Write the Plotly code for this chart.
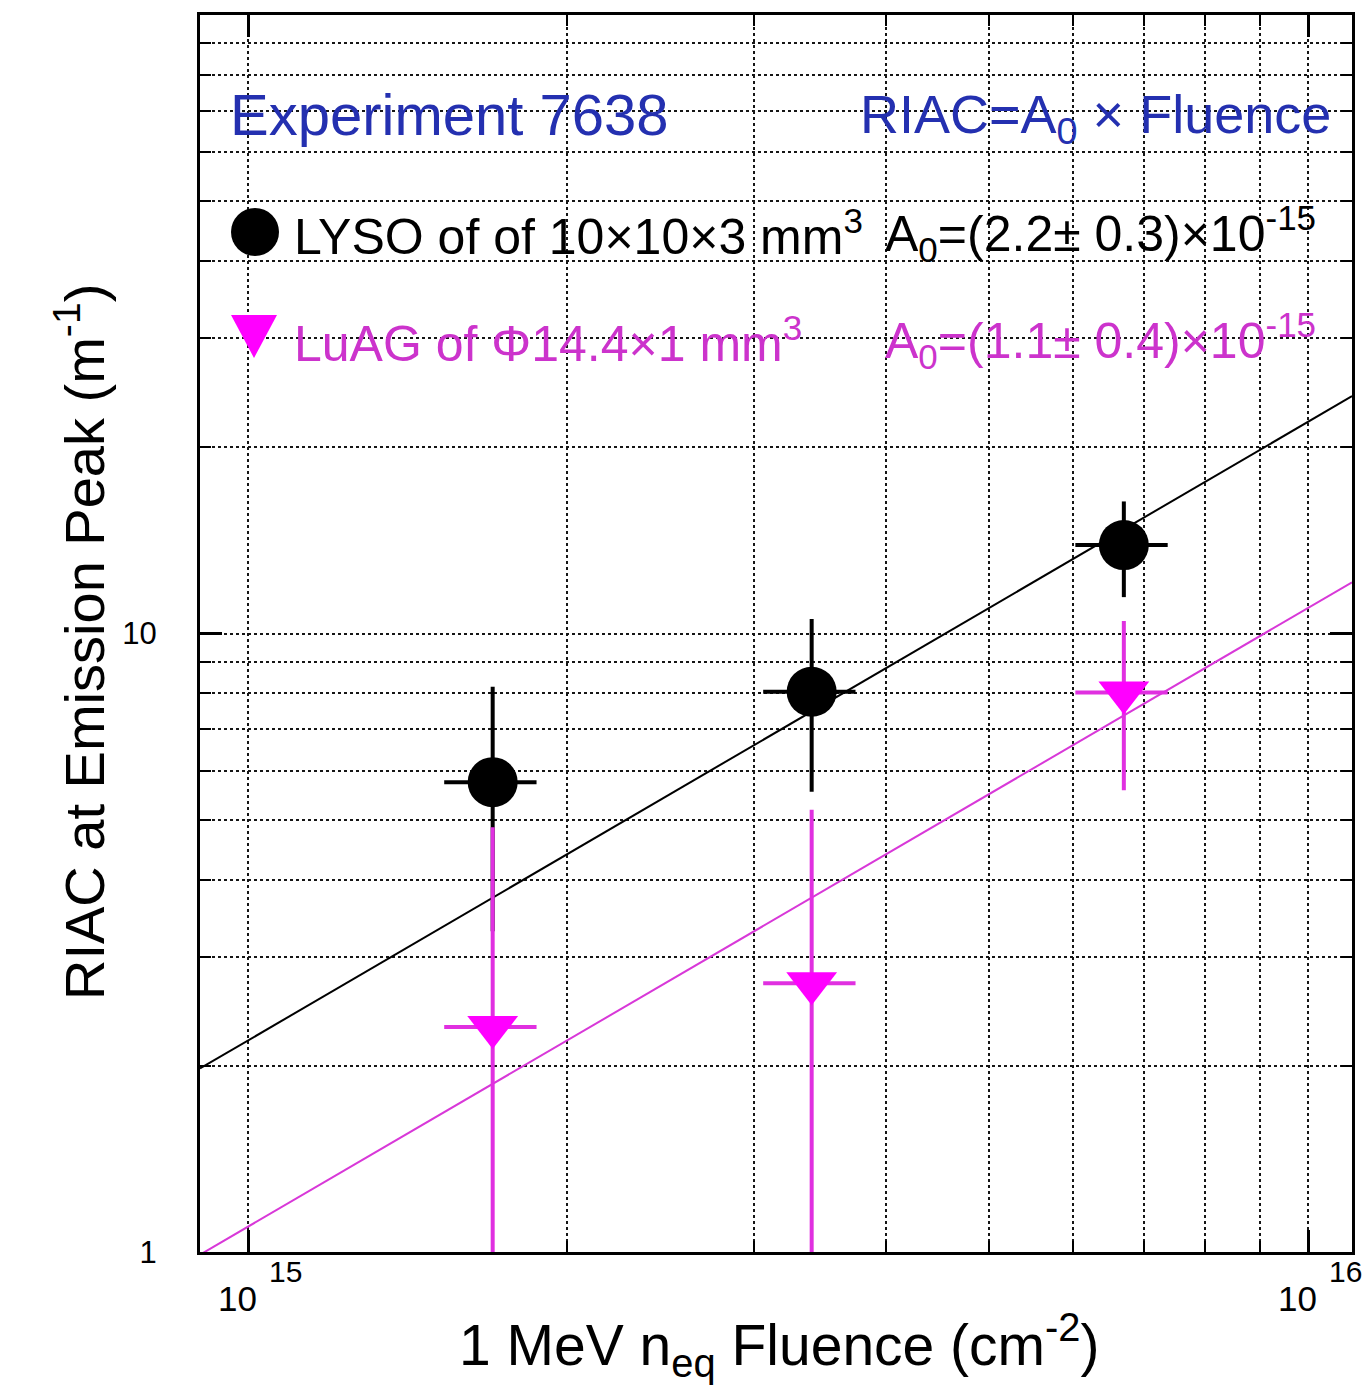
import numpy as np
import plotly.graph_objects as go

# ---- data -------------------------------------------------------------
fluence = [1.7e15, 3.4e15, 6.7e15]          # 1 MeV n_eq fluence (cm^-2)
fluence_err = [0.17e15, 0.34e15, 0.67e15]

lyso_riac = [5.75, 8.05, 13.9]              # RIAC at emission peak (m^-1)
lyso_err = [2.45, 2.5, 2.45]

luag_riac = [2.31, 2.72, 8.03]
luag_err = [2.55, 2.47, 2.45]

# linear fits RIAC = A0 x Fluence
fit_a0 = [2.2e-15, 1.1e-15]
fit_a0_err = [0.3e-15, 0.4e-15]
fit_fluence = [9e14, 1.1e16]

# axes
x_range = [9e14, 1.1e16]
y_range = [1, 100]
x_major = [1e15, 1e16]
x_minor = [2e15, 3e15, 4e15, 5e15, 6e15, 7e15, 8e15, 9e15]
y_major = [1, 10, 100]
y_major_text = ["1", "10", ""]
y_minor = [2, 3, 4, 5, 6, 7, 8, 9, 20, 30, 40, 50, 60, 70, 80, 90]

# ---- style ------------------------------------------------------------
FONT = "Liberation Sans, Arial, Helvetica, sans-serif"
BLACK = "#000000"
MAGENTA = "#ff00ff"
MAGENTA_TXT = "#cc33cc"
MAGENTA_BAR = "#e030e0"
BLUE = "#2430b0"

W, H = 1367, 1395
L, R, T, B = 200, 15, 15, 143
PW, PH = W - L - R, H - T - B


def px(xp):
    return (xp - L) / PW


def py(yp):
    return (H - B - yp) / PH


fig = go.Figure()

# fit lines
for a0, col in zip(fit_a0, [BLACK, "#d838d8"]):
    fx = np.array(fit_fluence)
    fig.add_trace(go.Scatter(
        x=fx, y=a0 * fx, mode="lines",
        line=dict(color=col, width=2), hoverinfo="skip"))

# LYSO points
fig.add_trace(go.Scatter(
    x=fluence, y=lyso_riac, mode="markers",
    marker=dict(symbol="circle", size=50, color=BLACK),
    error_x=dict(type="data", array=fluence_err, color=BLACK, thickness=4, width=0),
    error_y=dict(type="data", array=lyso_err, color=BLACK, thickness=4, width=0),
    name="LYSO"))

# LuAG points
fig.add_trace(go.Scatter(
    x=fluence, y=luag_riac, mode="markers",
    marker=dict(symbol="triangle-down", size=44, color=MAGENTA),
    error_x=dict(type="data", array=fluence_err, color=MAGENTA_BAR, thickness=4, width=0),
    error_y=dict(type="data", array=luag_err, color=MAGENTA_BAR, thickness=4, width=0),
    name="LuAG"))

grid = dict(showgrid=True, gridcolor="#151515", griddash="3px,3px", gridwidth=2)

fig.update_xaxes(
    type="log", range=[np.log10(x_range[0]), np.log10(x_range[1])],
    tickmode="array", tickvals=x_major, showticklabels=False,
    ticks="inside", ticklen=22, tickwidth=3, tickcolor=BLACK,
    showline=True, linewidth=3, linecolor=BLACK, mirror="ticks",
    zeroline=False, **grid,
    minor=dict(tickmode="array", tickvals=x_minor, ticks="inside", ticklen=11,
               tickwidth=2, tickcolor=BLACK, **grid),
)
fig.update_yaxes(
    type="log", range=[np.log10(y_range[0]), np.log10(y_range[1])],
    tickmode="array", tickvals=y_major, ticktext=y_major_text,
    tickfont=dict(family=FONT, size=31, color=BLACK), ticklabelstandoff=34,
    ticks="inside", ticklen=22, tickwidth=3, tickcolor=BLACK,
    showline=True, linewidth=3, linecolor=BLACK, mirror="ticks",
    zeroline=False, **grid,
    minor=dict(tickmode="array", tickvals=y_minor, ticks="inside", ticklen=11,
               tickwidth=2, tickcolor=BLACK, **grid),
)

ann = []
# x tick labels written as 10 with a raised exponent
for v in x_major:
    e = int(round(np.log10(v)))
    ann.append(dict(x=np.log10(v), xref="x", y=py(1298), yref="paper", text="10",
                    showarrow=False, xanchor="center", yanchor="middle", xshift=-11,
                    font=dict(family=FONT, size=35, color=BLACK)))
    ann.append(dict(x=np.log10(v), xref="x", y=py(1271), yref="paper", text=str(e),
                    showarrow=False, xanchor="center", yanchor="middle", xshift=37,
                    font=dict(family=FONT, size=30, color=BLACK)))

# axis titles
ann.append(dict(x=px(779), y=py(1345), xref="paper", yref="paper",
                text="1 MeV n<sub>eq</sub> Fluence (cm<sup>-2</sup>)",
                showarrow=False, xanchor="center", yanchor="middle",
                font=dict(family=FONT, size=57, color=BLACK)))
ann.append(dict(x=px(80), y=py(642), xref="paper", yref="paper",
                text="RIAC at Emission Peak (m<sup>-1</sup>)", textangle=-90,
                showarrow=False, xanchor="center", yanchor="middle",
                font=dict(family=FONT, size=56, color=BLACK)))

# headers
ann.append(dict(x=px(228), y=py(114), xref="paper", yref="paper",
                text="Experiment 7638", showarrow=False,
                xanchor="left", yanchor="middle",
                font=dict(family=FONT, size=58, color=BLUE)))
ann.append(dict(x=px(1333), y=py(118), xref="paper", yref="paper",
                text="RIAC=A<sub>0</sub> × Fluence", showarrow=False,
                xanchor="right", yanchor="middle",
                font=dict(family=FONT, size=54, color=BLUE)))

# legend rows
def a0_text(a, da):
    return "A<sub>0</sub>=(%.1f± %.1f)×10<sup>-15</sup>" % (a * 1e15, da * 1e15)

rows = [
    ("LYSO of of 10×10×3 mm<sup>3</sup>", a0_text(fit_a0[0], fit_a0_err[0]), BLACK, 233),
    ("LuAG of Φ14.4×1 mm<sup>3</sup>", a0_text(fit_a0[1], fit_a0_err[1]), MAGENTA_TXT, 340),
]
for label, a0s, col, yc in rows:
    ann.append(dict(x=px(292), y=py(yc), xref="paper", yref="paper", text=label,
                    showarrow=False, xanchor="left", yanchor="middle",
                    font=dict(family=FONT, size=50, color=col)))
    ann.append(dict(x=px(883), y=py(yc), xref="paper", yref="paper", text=a0s,
                    showarrow=False, xanchor="left", yanchor="middle",
                    font=dict(family=FONT, size=50, color=col)))

# legend keys
shapes = [
    dict(type="circle", xref="paper", yref="paper",
         x0=px(231), x1=px(279), y0=py(256), y1=py(208),
         fillcolor=BLACK, line=dict(width=0)),
    dict(type="path", xref="paper", yref="paper",
         path="M %f,%f L %f,%f L %f,%f Z" % (px(231), py(315), px(277), py(315), px(254), py(358)),
         fillcolor=MAGENTA, line=dict(width=0)),
]

fig.update_layout(
    width=W, height=H,
    margin=dict(l=L, r=R, t=T, b=B),
    paper_bgcolor="white", plot_bgcolor="white",
    showlegend=False,
    font=dict(family=FONT, color=BLACK),
    annotations=ann, shapes=shapes,
)

fig.write_html("out.html")
